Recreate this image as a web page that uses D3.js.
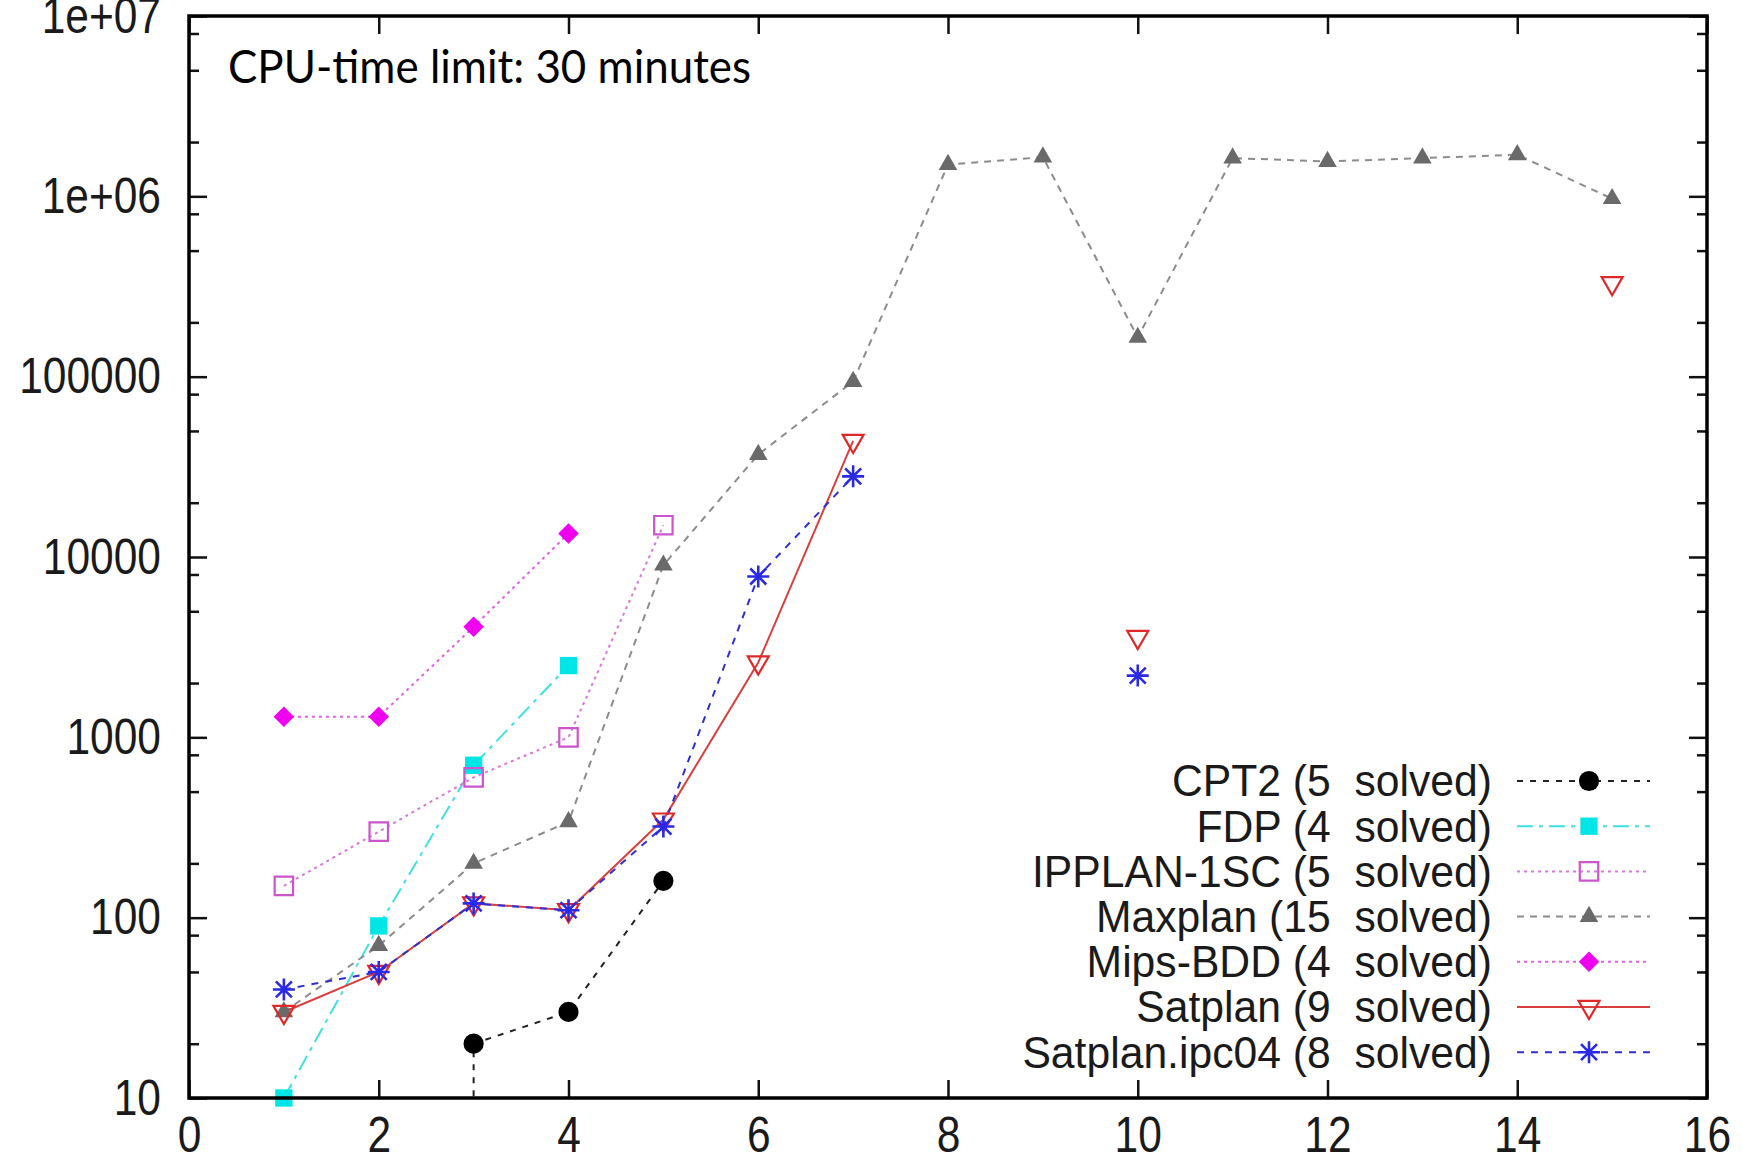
<!DOCTYPE html>
<html>
<head>
<meta charset="utf-8">
<script src="https://cdn.jsdelivr.net/npm/d3@7"></script>
<style>
  body { margin: 0; background: #fff; }
  svg { display: block; }
</style>
</head>
<body>
<div id="chart"></div>
<script>
// ---- data (x = problem number, y = CPU time) ----
// CPT2: first point lies below the 10 axis (only the line drop is visible)
const cpt2X = [3, 3, 4, 5];
const cpt2Y = [1, 20, 30, 160];
const fdpX = [1, 2, 3, 4];
const fdpY = [10, 90, 700, 2500];
const ipplanX = [1, 2, 3, 4, 5];
const ipplanY = [150, 300, 600, 1000, 15000];
const maxplanX = [1, 2, 3, 4, 5, 6, 7, 8, 9, 10, 11, 12, 13, 14, 15];
const maxplanY = [30, 70, 200, 340, 9000, 37000, 94000, 1500000, 1650000, 165000, 1630000, 1560000, 1630000, 1700000, 970000];
const mipsX = [1, 2, 3, 4];
const mipsY = [1300, 1300, 4100, 13500];
// null = not solved, breaks the line
const satplanX = [1, 2, 3, 4, 5, 6, 7, 8, 9, 10, 11, 12, 13, 14, 15];
const satplanY = [30, 50, 120, 110, 350, 2600, 44000, null, null, 3600, null, null, null, null, 330000];
const ipc04X = [1, 2, 3, 4, 5, 6, 7, 8, 9, 10];
const ipc04Y = [40, 50, 120, 110, 320, 7800, 28000, null, null, 2200];

const legendLabels = [
  "CPT2 (5  solved)",
  "FDP (4  solved)",
  "IPPLAN-1SC (5  solved)",
  "Maxplan (15  solved)",
  "Mips-BDD (4  solved)",
  "Satplan (9  solved)",
  "Satplan.ipc04 (8  solved)"
];

const xTickValues = [0, 2, 4, 6, 8, 10, 12, 14, 16];
const xTickLabels = ["0", "2", "4", "6", "8", "10", "12", "14", "16"];
const yTickValues = [10, 100, 1000, 10000, 100000, 1000000, 10000000];
const yTickLabels = ["10", "100", "1000", "10000", "100000", "1e+06", "1e+07"];
const yMinorValues = [20, 50, 80, 200, 500, 800, 2000, 5000, 8000, 20000, 50000, 80000,
                      200000, 500000, 800000, 2000000, 5000000, 8000000];
const noteText = "CPU-time limit: 30 minutes";

//set svg parameters
const width = 1742,
      height = 1164;
const plot = {left: 189, right: 1707, top: 16, bottom: 1098};

const svg = d3.select("#chart")
  .append("svg")
    .attr("width", width)
    .attr("height", height);

// scales
const x = d3.scaleLinear().domain([0, 16]).range([plot.left, plot.right]);
const y = d3.scaleLog().domain([10, 1e7]).range([plot.bottom, plot.top]);

svg.append("defs").append("clipPath")
    .attr("id", "plot-clip")
  .append("rect")
    .attr("x", plot.left)
    .attr("y", plot.top)
    .attr("width", plot.right - plot.left)
    .attr("height", plot.bottom - plot.top);

// series styles
const series = [
  {xs: cpt2X, ys: cpt2Y, line: "#222", mark: "#000", dash: "6,7", sym: "circle"},
  {xs: fdpX, ys: fdpY, line: "#40e0e0", mark: "#00e6e6", dash: "16,6,4,6", sym: "square"},
  {xs: ipplanX, ys: ipplanY, line: "#d878d8", mark: "#cc55cc", dash: "3,4", sym: "opensquare"},
  {xs: maxplanX, ys: maxplanY, line: "#8c8c8c", mark: "#6a6a6a", dash: "7,6", sym: "triangle"},
  {xs: mipsX, ys: mipsY, line: "#e060e0", mark: "#f000f0", dash: "3,4", sym: "diamond"},
  {xs: satplanX, ys: satplanY, line: "#d84040", mark: "#e02828", dash: null, sym: "opentriangledown"},
  {xs: ipc04X, ys: ipc04Y, line: "#3030d0", mark: "#2a2ae6", dash: "7,7", sym: "asterisk"}
];

// draw one marker into a selection (already translated)
function drawMark(g, sym, color) {
  if (sym === "circle") {
    g.append("path").attr("d", d3.symbol(d3.symbolCircle, 320)()).attr("fill", color);
  } else if (sym === "square") {
    g.append("path").attr("d", d3.symbol(d3.symbolSquare, 300)()).attr("fill", color);
  } else if (sym === "opensquare") {
    g.append("path").attr("d", d3.symbol(d3.symbolSquare, 340)())
      .attr("fill", "none").attr("stroke", color).attr("stroke-width", 2.2);
  } else if (sym === "triangle") {
    g.append("path").attr("d", d3.symbol(d3.symbolTriangle, 150)()).attr("fill", color);
  } else if (sym === "diamond") {
    g.append("path").attr("d", d3.symbol(d3.symbolSquare, 210)())
      .attr("transform", "rotate(45)").attr("fill", color);
  } else if (sym === "opentriangledown") {
    g.append("path").attr("d", d3.symbol(d3.symbolTriangle, 190)())
      .attr("transform", "rotate(180)")
      .attr("fill", "none").attr("stroke", color).attr("stroke-width", 2.2);
  } else if (sym === "asterisk") {
    const r = 11, q = 8;
    g.append("path")
      .attr("d", `M${-r},0L${r},0M0,${-r}L0,${r}M${-q},${-q}L${q},${q}M${-q},${q}L${q},${-q}`)
      .attr("stroke", color).attr("stroke-width", 2.6).attr("fill", "none");
  }
}

// lines
const linesG = svg.append("g").attr("clip-path", "url(#plot-clip)");
const marksG = svg.append("g");

series.forEach(s => {
  const pts = s.xs.map((d, i) => [d, s.ys[i]]);
  const line = d3.line()
    .defined(d => d[1] !== null)
    .x(d => x(d[0]))
    .y(d => y(d[1]));
  linesG.append("path")
    .datum(pts)
    .attr("d", line)
    .attr("fill", "none")
    .attr("stroke", s.line)
    .attr("stroke-width", 2)
    .attr("stroke-dasharray", s.dash);

  pts.filter(d => d[1] !== null && d[1] >= 10 && d[1] <= 1e7)
    .forEach(d => {
      const g = marksG.append("g").attr("transform", `translate(${x(d[0])},${y(d[1])})`);
      drawMark(g, s.sym, s.mark);
    });
});

// axes
const fontFamily = "'Liberation Sans', Arial, Helvetica, sans-serif";
const squeeze = 0.85;

const xAxis = svg.append("g")
  .attr("transform", `translate(0,${plot.bottom})`)
  .call(d3.axisBottom(x)
    .tickValues(xTickValues)
    .tickFormat((d, i) => xTickLabels[i])
    .tickSize(-18)
    .tickPadding(19));

svg.append("g")
  .attr("transform", `translate(0,${plot.top})`)
  .call(d3.axisTop(x).tickValues(xTickValues).tickFormat("").tickSize(-18));

const yAxis = svg.append("g")
  .attr("transform", `translate(${plot.left},0)`)
  .call(d3.axisLeft(y)
    .tickValues(yTickValues)
    .tickFormat((d, i) => yTickLabels[i])
    .tickSize(-18)
    .tickPadding(28));

svg.append("g")
  .attr("transform", `translate(${plot.left},0)`)
  .call(d3.axisLeft(y).tickValues(yMinorValues).tickFormat("").tickSize(-10));

svg.append("g")
  .attr("transform", `translate(${plot.right},0)`)
  .call(d3.axisRight(y).tickValues(yTickValues).tickFormat("").tickSize(-18));

svg.append("g")
  .attr("transform", `translate(${plot.right},0)`)
  .call(d3.axisRight(y).tickValues(yMinorValues).tickFormat("").tickSize(-10));

svg.selectAll(".domain").remove();
svg.selectAll(".tick line").attr("stroke", "#111").attr("stroke-width", 2.5);

svg.selectAll(".tick text")
  .style("font-family", fontFamily)
  .style("font-size", "50px")
  .attr("fill", "#1a1a1a");

yAxis.selectAll(".tick text")
  .attr("x", -28 / squeeze)
  .attr("transform", `scale(${squeeze},1)`);
xAxis.selectAll(".tick text")
  .attr("transform", `scale(${squeeze},1)`);

// frame
svg.append("rect")
  .attr("x", plot.left)
  .attr("y", plot.top)
  .attr("width", plot.right - plot.left)
  .attr("height", plot.bottom - plot.top)
  .attr("fill", "none")
  .attr("stroke", "#000")
  .attr("stroke-width", 3.5);

// note
svg.append("text")
  .attr("x", 228)
  .attr("y", 83)
  .attr("textLength", 523)
  .attr("lengthAdjust", "spacingAndGlyphs")
  .style("font-family", "Lato, 'Open Sans', sans-serif")
  .style("font-size", "46px")
  .attr("fill", "#000")
  .text(noteText);

// legend
const legendSqueeze = 0.97;
const legend = svg.append("g");
series.forEach((s, i) => {
  const ly = 781 + i * 45.2;
  const row = legend.append("g").attr("transform", `translate(0,${ly})`);
  row.append("text")
    .attr("x", 1492 / legendSqueeze)
    .attr("dy", "0.35em")
    .attr("transform", `scale(${legendSqueeze},1)`)
    .attr("text-anchor", "end")
    .style("font-family", fontFamily)
    .style("font-size", "44px")
    .style("white-space", "pre")
    .attr("fill", "#1a1a1a")
    .text(legendLabels[i]);
  row.append("line")
    .attr("x1", 1517)
    .attr("x2", 1650)
    .attr("stroke", s.line)
    .attr("stroke-width", 2)
    .attr("stroke-dasharray", s.dash);
  drawMark(row.append("g").attr("transform", "translate(1589,0)"), s.sym, s.mark);
});
</script>
</body>
</html>
